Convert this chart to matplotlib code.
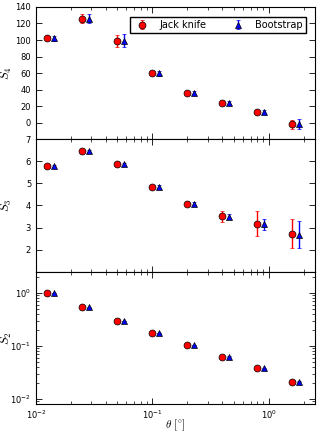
import matplotlib
matplotlib.use('Agg')
import matplotlib.pyplot as plt
import numpy as np

plt.rcParams['mathtext.fontset'] = 'cm'
plt.rcParams['font.family'] = ['DejaVu Sans']
plt.rcParams['xtick.direction'] = 'in'
plt.rcParams['ytick.direction'] = 'in'
plt.rcParams['xtick.top'] = True
plt.rcParams['ytick.right'] = True

# angular bins (degrees)
theta = np.array([0.0125, 0.025, 0.05, 0.1, 0.2, 0.4, 0.8, 1.6])
boot_shift = 1.14

# S4
s4_jk = [102, 126, 99, 60, 36, 24, 13, -2]
s4_jk_err = [2, 5, 7, 2, 1.5, 1.5, 2, 5]
s4_bs = [102, 126, 99, 60, 36, 24, 13, -2]
s4_bs_err = [3, 6, 8, 3, 2, 2, 2, 6]

# S3
s3_jk = [5.8, 6.47, 5.86, 4.86, 4.08, 3.51, 3.17, 2.73]
s3_jk_err = [0.05, 0.05, 0.06, 0.06, 0.07, 0.24, 0.57, 0.67]
s3_bs = [5.8, 6.47, 5.86, 4.86, 4.08, 3.5, 3.14, 2.68]
s3_bs_err = [0.05, 0.05, 0.06, 0.06, 0.07, 0.1, 0.23, 0.6]

# S2
s2_jk = [1.0, 0.53, 0.294, 0.173, 0.104, 0.063, 0.0375, 0.021]
s2_jk_err = [0.01, 0.005, 0.003, 0.002, 0.001, 0.001, 0.0008, 0.0006]
s2_bs = [1.0, 0.53, 0.294, 0.173, 0.104, 0.063, 0.0375, 0.021]
s2_bs_err = [0.01, 0.005, 0.003, 0.002, 0.001, 0.001, 0.0008, 0.0006]

fig, axes = plt.subplots(3, 1, figsize=(3.2, 4.34), dpi=100, sharex=True)
fig.subplots_adjust(left=0.1125, right=0.984, top=0.984, bottom=0.069, hspace=0)

panels = [
    (s4_jk, s4_jk_err, s4_bs, s4_bs_err, r'$S_4$'),
    (s3_jk, s3_jk_err, s3_bs, s3_bs_err, r'$S_3$'),
    (s2_jk, s2_jk_err, s2_bs, s2_bs_err, r'$S_2$'),
]

for ax, (jk, jke, bs, bse, lab) in zip(axes, panels):
    ax.errorbar(theta, jk, yerr=jke, fmt='o', color='red', ecolor='red',
                mec='black', mew=0.5, ms=5, capsize=1.5, elinewidth=1,
                label='Jack knife')
    ax.errorbar(theta * boot_shift, bs, yerr=bse, fmt='^', color='blue',
                ecolor='blue', mec='black', mew=0.5, ms=5, capsize=1.5,
                elinewidth=1, label='Bootstrap')
    ax.set_ylabel(lab, fontsize=9)
    ax.yaxis.set_label_coords(-0.08, 0.5)
    ax.tick_params(labelsize=6, length=4, width=0.6)
    ax.tick_params(which='minor', length=2, width=0.5)
    for s in ax.spines.values():
        s.set_linewidth(0.8)

ax1, ax2, ax3 = axes
ax1.set_xscale('log')
ax1.set_xlim(0.01, 2.5)

ax1.set_ylim(-20, 140)
ax1.set_yticks(np.arange(0, 141, 20))
ax1.legend(loc='upper right', ncol=2, numpoints=1, fontsize=7,
           fancybox=False, edgecolor='black', framealpha=1,
           handlelength=2, handletextpad=0.8, columnspacing=2.2,
           borderpad=0.3, bbox_to_anchor=(0.985, 0.96))

ax2.set_ylim(1, 7)
ax2.set_yticks(np.arange(2, 8, 1))

ax3.set_yscale('log')
ax3.set_ylim(0.008, 2.5)
ax3.set_xlabel(r'$\theta\ [^{\circ}]$', fontsize=8)
ax3.xaxis.set_label_coords(0.5, -0.1)

fig.savefig('out.png', dpi=100)
